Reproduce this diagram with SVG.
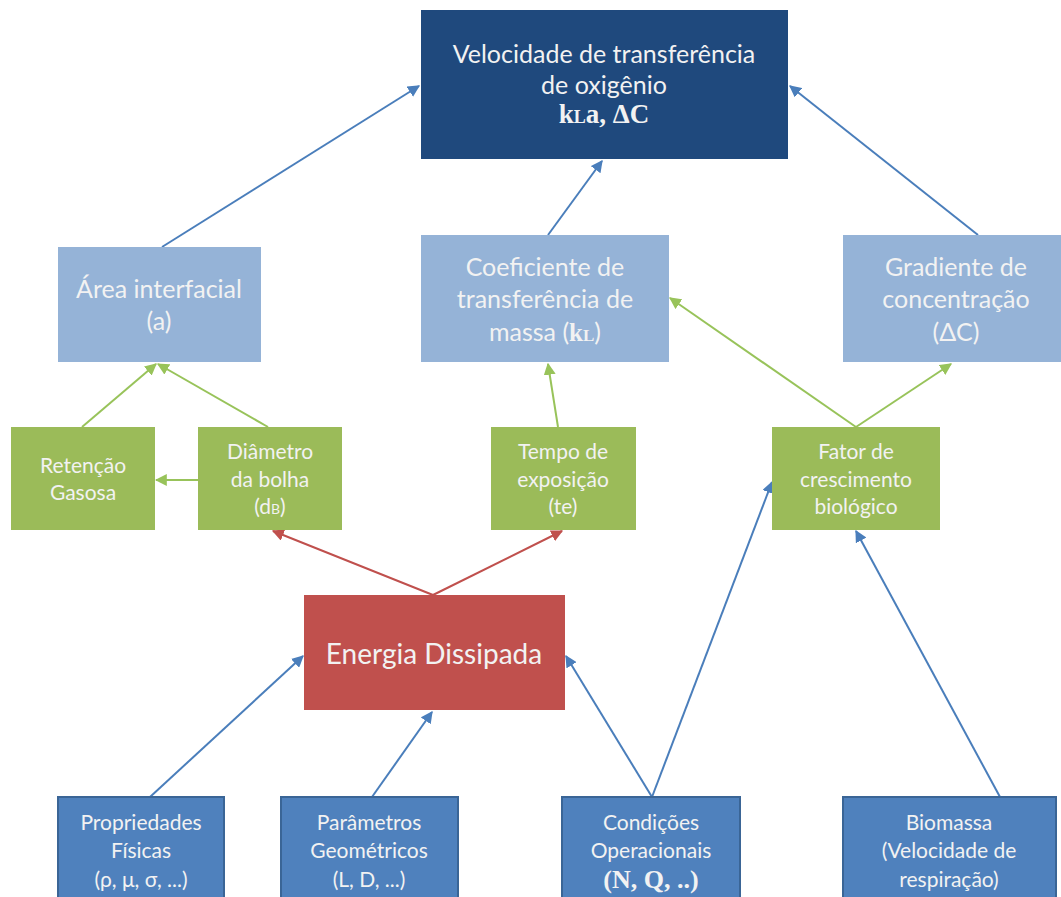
<svg xmlns="http://www.w3.org/2000/svg" width="1061" height="897" viewBox="0 0 1061 897">
<defs>
<style>
.t{font-family:Lato,"Open Sans","Liberation Sans",sans-serif;fill:#f2f2f2;text-anchor:middle}
.s{font-family:"Liberation Serif",serif;font-weight:bold;fill:#f2f2f2;text-anchor:middle}
.dark{fill:#1f497d}
.light{fill:#95b3d7}
.green{fill:#9bbb59}
.red{fill:#c0504d}
.blue{fill:#4f81bd;stroke:#3a6596;stroke-width:2}
.cb{stroke:#4a7ebb;stroke-width:2;fill:none;marker-end:url(#ab)}
.cg{stroke:#98c35a;stroke-width:2;fill:none;marker-end:url(#ag)}
.cr{stroke:#c0504d;stroke-width:2;fill:none;marker-end:url(#ar)}
</style>
<marker id="ab" viewBox="0 0 10 10" refX="9" refY="5" markerWidth="6" markerHeight="6" orient="auto" markerUnits="strokeWidth"><path d="M0,0L10,5L0,10z" fill="#4a7ebb"/></marker>
<marker id="ag" viewBox="0 0 10 10" refX="9" refY="5" markerWidth="6" markerHeight="6" orient="auto" markerUnits="strokeWidth"><path d="M0,0L10,5L0,10z" fill="#98c35a"/></marker>
<marker id="ar" viewBox="0 0 10 10" refX="9" refY="5" markerWidth="6" markerHeight="6" orient="auto" markerUnits="strokeWidth"><path d="M0,0L10,5L0,10z" fill="#c0504d"/></marker>
</defs>
<rect width="1061" height="897" fill="#ffffff"/>
<g id="connectors">
<line class="cb" x1="162" y1="247" x2="419" y2="86"/>
<line class="cb" x1="548" y1="235" x2="602" y2="161"/>
<line class="cb" x1="978" y1="235" x2="790" y2="86"/>
<line class="cg" x1="82" y1="427" x2="156" y2="364"/>
<line class="cg" x1="268" y1="427" x2="158" y2="364"/>
<line class="cg" x1="198" y1="480" x2="156" y2="480"/>
<line class="cg" x1="558" y1="427" x2="548" y2="364"/>
<line class="cg" x1="856" y1="427" x2="670" y2="298"/>
<line class="cg" x1="856" y1="427" x2="951" y2="364"/>
<line class="cr" x1="433" y1="595" x2="273" y2="531"/>
<line class="cr" x1="433" y1="595" x2="562" y2="531"/>
<line class="cb" x1="150" y1="797" x2="303" y2="656"/>
<line class="cb" x1="372" y1="797" x2="432" y2="712"/>
<line class="cb" x1="652" y1="797" x2="566" y2="656"/>
<line class="cb" x1="652" y1="797" x2="772" y2="482"/>
<line class="cb" x1="1000" y1="797" x2="856" y2="531"/>
</g>
<g id="velocidade">
<rect class="dark" x="421" y="10" width="367" height="149"/>
<text class="t" x="604" y="63" font-size="25">Velocidade de transferência</text>
<text class="t" x="604" y="94" font-size="25">de oxigênio</text>
<text class="s" x="604" y="123" font-size="27">k<tspan font-size="18">L</tspan>a, ΔC</text>
</g>
<g id="area">
<rect class="light" x="58" y="247" width="203" height="115"/>
<text class="t" x="159" y="298" font-size="25">Área interfacial</text>
<text class="t" x="159" y="330" font-size="25">(a)</text>
</g>
<g id="coeficiente">
<rect class="light" x="421" y="235" width="248" height="127"/>
<text class="t" x="545" y="276" font-size="25">Coeficiente de</text>
<text class="t" x="545" y="308" font-size="25">transferência de</text>
<text class="t" x="545" y="341" font-size="25">massa (<tspan font-family="Liberation Serif,serif" font-weight="bold">k<tspan font-size="17">L</tspan></tspan>)</text>
</g>
<g id="gradiente">
<rect class="light" x="843" y="235" width="218" height="127"/>
<text class="t" x="956" y="276" font-size="25">Gradiente de</text>
<text class="t" x="956" y="308" font-size="25">concentração</text>
<text class="t" x="956" y="341" font-size="25">(ΔC)</text>
</g>
<g id="retencao">
<rect class="green" x="11" y="427" width="144" height="103"/>
<text class="t" x="83" y="473" font-size="21">Retenção</text>
<text class="t" x="83" y="500" font-size="21">Gasosa</text>
</g>
<g id="diametro">
<rect class="green" x="198" y="427" width="144" height="103"/>
<text class="t" x="270" y="459" font-size="21">Diâmetro</text>
<text class="t" x="270" y="487" font-size="21">da bolha</text>
<text class="t" x="270" y="514" font-size="21">(d<tspan font-size="14">B</tspan>)</text>
</g>
<g id="tempo">
<rect class="green" x="491" y="427" width="145" height="103"/>
<text class="t" x="563" y="459" font-size="21">Tempo de</text>
<text class="t" x="563" y="487" font-size="21">exposição</text>
<text class="t" x="563" y="514" font-size="21">(te)</text>
</g>
<g id="fator">
<rect class="green" x="772" y="427" width="168" height="103"/>
<text class="t" x="856" y="459" font-size="21">Fator de</text>
<text class="t" x="856" y="487" font-size="21">crescimento</text>
<text class="t" x="856" y="514" font-size="21">biológico</text>
</g>
<g id="energia">
<rect class="red" x="304" y="595" width="261" height="115"/>
<text class="t" x="434" y="664" font-size="28">Energia Dissipada</text>
</g>
<g id="propriedades">
<rect class="blue" x="58" y="797" width="166" height="105"/>
<text class="t" x="141" y="830" font-size="21">Propriedades</text>
<text class="t" x="141" y="858" font-size="21">Físicas</text>
<text class="t" x="141" y="887" font-size="21">(ρ, μ, σ, ...)</text>
</g>
<g id="parametros">
<rect class="blue" x="281" y="797" width="177" height="105"/>
<text class="t" x="369" y="830" font-size="21">Parâmetros</text>
<text class="t" x="369" y="858" font-size="21">Geométricos</text>
<text class="t" x="369" y="887" font-size="21">(L, D, ...)</text>
</g>
<g id="condicoes">
<rect class="blue" x="562" y="797" width="178" height="105"/>
<text class="t" x="651" y="830" font-size="21">Condições</text>
<text class="t" x="651" y="858" font-size="21">Operacionais</text>
<text class="s" x="651" y="888" font-size="26">(N, Q, ..)</text>
</g>
<g id="biomassa">
<rect class="blue" x="843" y="797" width="213" height="105"/>
<text class="t" x="949" y="830" font-size="21">Biomassa</text>
<text class="t" x="949" y="858" font-size="21">(Velocidade de</text>
<text class="t" x="949" y="887" font-size="21">respiração)</text>
</g>
</svg>
